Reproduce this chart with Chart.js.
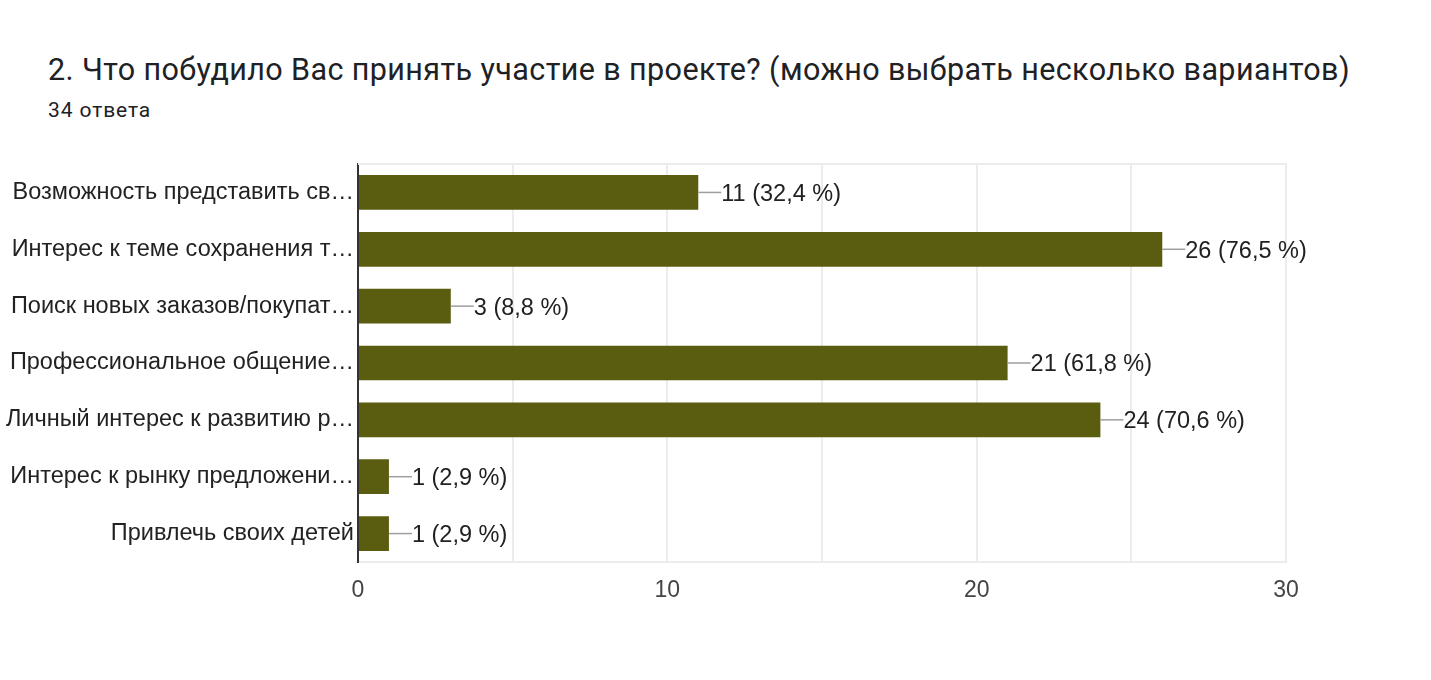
<!DOCTYPE html>
<html>
<head>
<meta charset="utf-8">
<script src="https://cdn.jsdelivr.net/npm/chart.js@4"></script>
<style>
  html, body { margin: 0; padding: 0; background: #fff; }
  body { width: 1431px; height: 680px; position: relative; overflow: hidden; font-family: Roboto, "Noto Sans", sans-serif; }
  #title { position: absolute; left: 48px; top: 55px; font-size: 30.5px; line-height: 1; letter-spacing: 0.4px; color: #202124; white-space: nowrap; }
  #subtitle { position: absolute; left: 48px; top: 100px; font-size: 21px; line-height: 1; letter-spacing: 0.9px; color: #202124; }
  #wrap { position: absolute; left: 0; top: 0; width: 1431px; height: 680px; }
</style>
</head>
<body>
<div id="title">2. Что побудило Вас принять участие в проекте? (можно выбрать несколько вариантов)</div>
<div id="subtitle">34 ответа</div>
<div id="wrap"><canvas id="answers_chart"></canvas></div>
<script>
const categories = [
    "Возможность представить св…",
    "Интерес к теме сохранения т…",
    "Поиск новых заказов/покупат…",
    "Профессиональное общение…",
    "Личный интерес к развитию р…",
    "Интерес к рынку предложени…",
    "Привлечь своих детей"
]
const counts = [11, 26, 3, 21, 24, 1, 1]
const percents = ["32,4", "76,5", "8,8", "61,8", "70,6", "2,9", "2,9"]
const xTicks = [0, 10, 20, 30]

const barColor = "#5a5d10"
const labelFont = "'Liberation Sans', Arial, sans-serif"

// leader line + "n (p %)" label at the end of each bar
const valueLabels = {
    id: "valueLabels",
    afterDatasetsDraw(chart) {
        const ctx = chart.ctx
        const meta = chart.getDatasetMeta(0)
        ctx.save()
        ctx.font = "23.5px " + labelFont
        ctx.textBaseline = "middle"
        ctx.fillStyle = "#212121"
        meta.data.forEach((bar, i) => {
            const x = bar.x
            const y = bar.y
            ctx.strokeStyle = "#9e9e9e"
            ctx.lineWidth = 1.5
            ctx.beginPath()
            ctx.moveTo(x, y)
            ctx.lineTo(x + 23, y)
            ctx.stroke()
            ctx.fillText(counts[i] + " (" + percents[i] + " %)", x + 23, y + 2)
        })
        ctx.restore()
    }
}

// thin frame on top and right of the plot
const frame = {
    id: "frame",
    beforeDatasetsDraw(chart) {
        const {ctx, chartArea} = chart
        ctx.save()
        ctx.strokeStyle = "#ececec"
        ctx.lineWidth = 2
        ctx.beginPath()
        ctx.moveTo(chartArea.left, chartArea.top)
        ctx.lineTo(chartArea.right, chartArea.top)
        ctx.lineTo(chartArea.right, chartArea.bottom)
        ctx.stroke()
        ctx.restore()
    }
}

new Chart(document.getElementById("answers_chart"), {
    type: "bar",
    data: {
        labels: categories,
        datasets: [{
            data: counts,
            backgroundColor: barColor,
            borderWidth: 0,
            categoryPercentage: 1,
            barPercentage: 0.61
        }]
    },
    options: {
        indexAxis: "y",
        responsive: true,
        maintainAspectRatio: false,
        animation: false,
        layout: {padding: {top: 164, right: 145, left: 0, bottom: 0}},
        plugins: {legend: {display: false}, tooltip: {enabled: false}},
        scales: {
            x: {
                min: 0,
                max: 30,
                afterBuildTicks(scale) {
                    scale.ticks = [0, 5, 10, 15, 20, 25, 30].map(v => ({value: v}))
                },
                afterFit(scale) { scale.height = 118 },
                grid: {color: "#ececec", lineWidth: 2, drawTicks: false},
                border: {color: "#ececec", width: 2},
                ticks: {
                    padding: 15,
                    color: "#444",
                    font: {family: labelFont, size: 23},
                    callback: v => xTicks.includes(v) ? String(v) : ""
                }
            },
            y: {
                afterFit(scale) { scale.width = 358 },
                grid: {display: false},
                border: {color: "#333", width: 2},
                ticks: {
                    padding: -4,
                    color: "#222",
                    font: {family: labelFont, size: 23.5}
                }
            }
        }
    },
    plugins: [frame, valueLabels]
})
</script>
</body>
</html>
